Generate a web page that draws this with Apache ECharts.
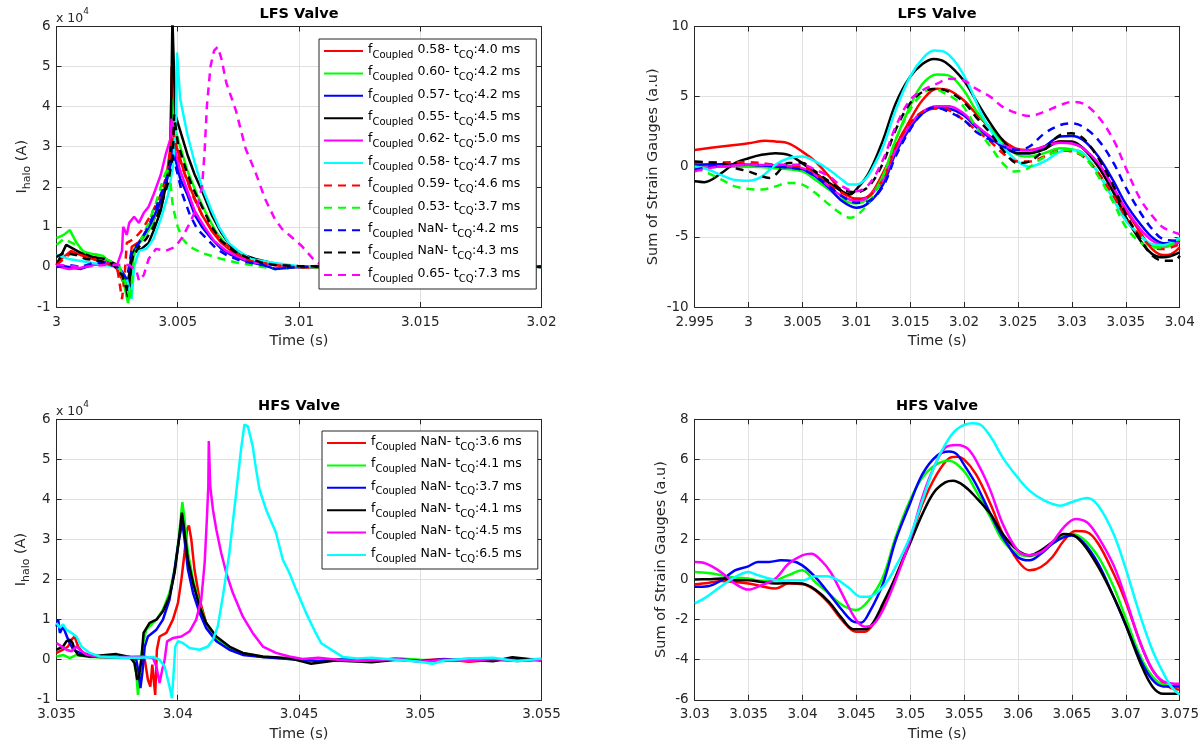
<!DOCTYPE html>
<html><head><meta charset="utf-8">
<script src="https://cdn.jsdelivr.net/npm/echarts@6/dist/echarts.min.js"></script>
<style>html,body{margin:0;padding:0;background:#fff}#c{width:1201px;height:749px}</style>
</head><body><div id="c"></div>
<script>
// ---------------- DATA ----------------
// Legend labels (f_Coupled value and t_CQ)
const lfsFc  = ['0.58','0.60','0.57','0.55','0.62','0.58','0.59','0.53','NaN','NaN','0.65'];
const lfsTcq = ['4.0','4.2','4.2','4.5','5.0','4.7','4.6','3.7','4.2','4.3','7.3'];
const hfsFc  = ['NaN','NaN','NaN','NaN','NaN','NaN'];
const hfsTcq = ['3.6','4.1','3.7','4.1','4.5','6.5'];

// Tick labels
const tlXTicks = ['3','3.005','3.01','3.015','3.02'];
const trXTicks = ['2.995','3','3.005','3.01','3.015','3.02','3.025','3.03','3.035','3.04'];
const blXTicks = ['3.035','3.04','3.045','3.05','3.055'];
const brXTicks = ['3.03','3.035','3.04','3.045','3.05','3.055','3.06','3.065','3.07','3.075'];
const haloYTicks = ['-1','0','1','2','3','4','5','6'];
const lfsStrainYTicks = ['-10','-5','0','5','10'];
const hfsStrainYTicks = ['-6','-4','-2','0','2','4','6','8'];

// LFS halo current [time s, I_halo x1e4 A]
const lfsHalo1 = [[3.0000,0.10],[3.0003,0.25],[3.0006,0.40],[3.0009,0.32],[3.0012,0.26],[3.0016,0.18],[3.0020,0.12],[3.0024,0.05],[3.0027,-0.30],[3.0029,-0.60],[3.0030,-0.20],[3.0031,0.50],[3.0034,0.62],[3.0037,0.85],[3.0040,1.15],[3.0043,1.60],[3.0045,2.10],[3.0047,3.00],[3.00475,5.00],[3.0048,3.30],[3.0050,2.90],[3.0053,2.30],[3.0056,1.85],[3.0060,1.30],[3.0064,0.90],[3.0068,0.60],[3.0072,0.40],[3.0077,0.25],[3.0082,0.15],[3.0090,0.08],[3.0100,0.00],[3.0110,0.03],[3.0130,-0.02],[3.0150,0.03],[3.0170,0.00],[3.0190,0.02],[3.0200,0.00]];
const lfsHalo2 = [[3.0000,0.72],[3.0003,0.80],[3.00055,0.92],[3.0008,0.63],[3.0011,0.38],[3.0015,0.32],[3.0019,0.28],[3.0022,0.12],[3.0026,0.00],[3.00275,-0.35],[3.00295,-0.90],[3.0031,-0.25],[3.0032,0.45],[3.0035,0.65],[3.0039,1.00],[3.0042,1.50],[3.0045,2.10],[3.0047,2.80],[3.0048,4.20],[3.0049,3.40],[3.0051,3.00],[3.0054,2.40],[3.0058,1.80],[3.0062,1.30],[3.0066,0.85],[3.0070,0.55],[3.0075,0.35],[3.0080,0.20],[3.0090,0.08],[3.0100,0.00],[3.0120,0.02],[3.0150,-0.02],[3.0180,0.02],[3.0200,0.00]];
const lfsHalo3 = [[3.0000,0.05],[3.0005,0.00],[3.0010,-0.05],[3.0015,0.05],[3.0020,0.10],[3.0025,0.05],[3.0028,-0.20],[3.0030,-0.50],[3.0031,0.30],[3.0033,0.50],[3.0036,0.80],[3.0039,1.10],[3.0042,1.50],[3.0045,2.00],[3.0047,2.60],[3.0048,3.00],[3.0049,2.70],[3.0051,2.20],[3.0054,1.80],[3.0057,1.30],[3.0060,1.00],[3.0064,0.70],[3.0068,0.45],[3.0072,0.30],[3.0078,0.15],[3.0085,0.05],[3.0090,-0.05],[3.0100,0.00],[3.0120,0.03],[3.0150,0.00],[3.0180,0.02],[3.0200,0.01]];
const lfsHalo4 = [[3.0000,0.05],[3.0004,0.55],[3.0007,0.45],[3.0010,0.35],[3.0015,0.25],[3.0020,0.20],[3.0025,0.05],[3.0028,-0.30],[3.00295,-0.75],[3.0031,0.10],[3.0032,0.40],[3.0035,0.45],[3.0038,0.60],[3.0040,0.90],[3.0043,1.40],[3.0045,2.00],[3.0047,2.80],[3.00478,6.20],[3.0049,3.80],[3.0051,3.40],[3.0054,2.80],[3.0057,2.30],[3.0060,1.90],[3.0064,1.30],[3.0068,0.85],[3.0072,0.50],[3.0077,0.30],[3.0082,0.20],[3.0090,0.08],[3.0100,0.00],[3.0120,-0.02],[3.0150,0.02],[3.0180,0.00],[3.0200,0.01]];
const lfsHalo5 = [[3.0000,0.02],[3.0005,-0.05],[3.0010,-0.02],[3.0015,0.05],[3.0020,0.10],[3.0025,0.05],[3.0027,0.40],[3.00275,1.00],[3.0029,0.80],[3.0030,1.10],[3.0032,1.25],[3.0034,1.10],[3.0036,1.35],[3.0038,1.50],[3.0040,1.80],[3.0043,2.30],[3.0045,2.80],[3.0047,3.20],[3.00475,3.70],[3.0049,2.90],[3.0051,2.40],[3.0054,1.90],[3.0057,1.40],[3.0061,1.00],[3.0065,0.65],[3.0070,0.40],[3.0075,0.25],[3.0080,0.12],[3.0090,0.05],[3.0100,0.00],[3.0120,0.02],[3.0150,0.00],[3.0180,0.03],[3.0200,0.02]];
const lfsHalo6 = [[3.0000,0.30],[3.0005,0.20],[3.0010,0.15],[3.0015,0.10],[3.0020,0.05],[3.0025,0.00],[3.0029,-0.30],[3.0031,-0.80],[3.0032,0.00],[3.0034,0.40],[3.0037,0.45],[3.0040,0.70],[3.0043,1.20],[3.0046,1.80],[3.0048,2.50],[3.00492,3.50],[3.00497,5.35],[3.0051,4.20],[3.0054,3.30],[3.0057,2.60],[3.0060,2.00],[3.0064,1.40],[3.0067,1.00],[3.0071,0.60],[3.0075,0.40],[3.0080,0.20],[3.0090,0.10],[3.0100,0.02],[3.0120,0.00],[3.0150,0.03],[3.0180,0.00],[3.0200,0.02]];
const lfsHalo7 = [[3.0000,0.05],[3.0006,0.35],[3.0010,0.30],[3.0015,0.20],[3.0020,0.10],[3.0025,0.00],[3.0027,-0.80],[3.0028,-0.30],[3.0029,0.60],[3.0032,0.70],[3.0035,0.90],[3.0039,1.30],[3.0043,1.80],[3.0046,2.40],[3.0048,3.40],[3.0050,2.80],[3.0053,2.30],[3.0056,1.80],[3.0060,1.30],[3.0065,0.85],[3.0070,0.55],[3.0075,0.30],[3.0080,0.15],[3.0090,0.05],[3.0100,-0.02],[3.0120,0.02],[3.0150,0.00],[3.0180,0.02],[3.0200,0.00]];
const lfsHalo8 = [[3.0000,0.55],[3.0003,0.70],[3.0008,0.55],[3.0012,0.35],[3.0017,0.30],[3.0022,0.15],[3.0026,0.00],[3.0029,-0.50],[3.00305,-0.85],[3.0032,0.30],[3.0035,0.70],[3.0038,1.10],[3.0041,1.60],[3.0044,2.20],[3.0046,2.50],[3.0047,2.10],[3.0048,1.50],[3.0050,1.00],[3.0052,0.70],[3.0055,0.50],[3.0060,0.35],[3.0068,0.20],[3.0075,0.10],[3.0085,0.00],[3.0090,-0.05],[3.0100,0.00],[3.0120,-0.02],[3.0150,0.02],[3.0180,0.00],[3.0200,0.00]];
const lfsHalo9 = [[3.0000,0.00],[3.0005,0.05],[3.0010,0.00],[3.0015,0.10],[3.0020,0.10],[3.0025,0.00],[3.0029,-0.30],[3.0031,0.40],[3.0034,0.60],[3.0037,0.90],[3.0040,1.30],[3.0043,1.80],[3.0046,2.30],[3.0048,2.80],[3.0050,2.30],[3.0052,1.80],[3.0055,1.30],[3.0058,0.95],[3.0062,0.70],[3.0066,0.45],[3.0070,0.30],[3.0076,0.15],[3.0085,0.05],[3.0090,-0.05],[3.0100,0.00],[3.0120,0.02],[3.0150,-0.01],[3.0180,0.02],[3.0200,0.00]];
const lfsHalo10 = [[3.0000,0.25],[3.0003,0.35],[3.0008,0.30],[3.0012,0.20],[3.0018,0.15],[3.0023,0.08],[3.0027,-0.20],[3.0029,-0.55],[3.0031,0.20],[3.0034,0.50],[3.0037,0.70],[3.0040,1.00],[3.0043,1.50],[3.0046,2.10],[3.0048,2.80],[3.00485,3.80],[3.0050,3.10],[3.0053,2.50],[3.0056,2.00],[3.0060,1.50],[3.0064,1.00],[3.0068,0.65],[3.0073,0.40],[3.0078,0.25],[3.0085,0.10],[3.0090,0.05],[3.0100,0.02],[3.0120,0.00],[3.0150,0.02],[3.0180,-0.01],[3.0200,0.01]];
const lfsHalo11 = [[3.0000,0.05],[3.0010,0.00],[3.0020,0.05],[3.0030,0.05],[3.0033,-0.10],[3.0034,-0.35],[3.0036,-0.20],[3.0038,0.20],[3.0041,0.45],[3.0045,0.40],[3.0049,0.50],[3.0052,0.75],[3.0055,1.10],[3.0058,1.50],[3.0060,2.00],[3.0061,2.80],[3.0062,4.00],[3.00635,5.00],[3.0065,5.40],[3.00665,5.49],[3.0068,5.20],[3.0070,4.60],[3.0074,3.90],[3.0078,2.95],[3.0082,2.37],[3.0086,1.70],[3.0090,1.20],[3.0093,0.95],[3.0101,0.53],[3.0107,0.12],[3.0110,0.05],[3.0130,0.00],[3.0160,0.02],[3.0200,0.00]];

// LFS strain gauges [time s, a.u.]
const lfsStrain1 = [[2.995,1.2],[2.99749,1.44],[3.0,1.67],[3.00157,1.86],[3.00249,1.8],[3.0037,1.67],[3.00498,1.08],[3.00618,0.38],[3.00746,-0.68],[3.00867,-1.75],[3.00998,-2.29],[3.01115,-2.1],[3.01247,-0.45],[3.01364,1.44],[3.01496,3.3],[3.01613,4.74],[3.01748,5.57],[3.01861,5.45],[3.01996,4.74],[3.02109,3.8],[3.02244,2.74],[3.02358,1.9],[3.02496,1.27],[3.02606,1.2],[3.02745,1.44],[3.0289,1.8],[3.02997,1.67],[3.03104,1.32],[3.03245,0.02],[3.03387,-1.75],[3.03494,-3.04],[3.03636,-4.7],[3.03746,-5.87],[3.03849,-6.3],[3.0392,-6.23],[3.04,-5.75]];
const lfsStrain2 = [[2.995,0.07],[2.99749,0.0],[3.0,0.0],[3.00249,-0.1],[3.00498,-0.33],[3.00618,-0.92],[3.00746,-1.63],[3.00867,-2.33],[3.00998,-2.62],[3.01115,-2.2],[3.01247,-0.68],[3.01364,1.9],[3.01496,4.27],[3.01613,5.9],[3.01748,6.58],[3.01861,6.5],[3.01996,5.45],[3.02109,4.03],[3.02244,2.74],[3.02358,1.8],[3.02496,0.85],[3.02606,0.73],[3.02745,0.97],[3.0289,1.32],[3.02997,1.25],[3.03104,0.97],[3.03245,-0.45],[3.03387,-2.33],[3.03494,-3.75],[3.03636,-4.93],[3.03746,-5.64],[3.03849,-5.75],[3.04,-5.17]];
const lfsStrain3 = [[2.995,0.14],[2.99749,0.17],[3.0,0.14],[3.00249,0.02],[3.00498,-0.17],[3.00618,-0.68],[3.00746,-1.5],[3.00867,-2.45],[3.00998,-2.92],[3.01115,-2.57],[3.01247,-1.27],[3.01364,0.97],[3.01496,2.74],[3.01613,3.8],[3.01748,4.22],[3.01861,4.15],[3.01996,3.68],[3.02109,2.85],[3.02244,2.03],[3.02358,1.44],[3.02496,0.97],[3.02606,0.97],[3.02745,1.44],[3.0289,2.15],[3.02997,2.19],[3.03104,1.9],[3.03245,0.73],[3.03387,-1.04],[3.03494,-2.57],[3.03636,-4.1],[3.03746,-5.05],[3.03849,-5.45],[3.04,-5.4]];
const lfsStrain4 = [[2.995,-1.04],[2.99589,-1.1],[2.99749,-0.45],[2.99873,0.26],[3.0,0.61],[3.00121,0.85],[3.00249,0.97],[3.0037,0.85],[3.00498,0.26],[3.00618,-0.45],[3.00746,-1.15],[3.00867,-1.75],[3.00938,-1.98],[3.00998,-1.63],[3.01115,-0.45],[3.01247,1.9],[3.01364,4.5],[3.01496,6.39],[3.01613,7.33],[3.01719,7.69],[3.01826,7.45],[3.01996,6.15],[3.02109,4.74],[3.02244,3.09],[3.02358,1.9],[3.02496,0.97],[3.02606,0.97],[3.02745,1.25],[3.0289,1.8],[3.02997,1.8],[3.03104,1.32],[3.03245,0.02],[3.03387,-1.86],[3.03494,-3.5],[3.03636,-5.28],[3.03746,-6.23],[3.03849,-6.46],[3.04,-6.1]];
const lfsStrain5 = [[2.995,-0.1],[2.99749,0.02],[3.0,0.14],[3.00249,0.1],[3.00498,-0.1],[3.00618,-0.57],[3.00746,-1.4],[3.00867,-2.1],[3.00998,-2.45],[3.01115,-2.1],[3.01247,-0.92],[3.01364,1.2],[3.01496,2.97],[3.01613,3.92],[3.01748,4.32],[3.01861,4.32],[3.01996,3.8],[3.02109,2.97],[3.02244,2.15],[3.02358,1.56],[3.02496,1.2],[3.02606,1.16],[3.02745,1.44],[3.0289,1.72],[3.02997,1.67],[3.03104,1.32],[3.03245,0.26],[3.03387,-1.5],[3.03494,-2.92],[3.03636,-4.46],[3.03746,-5.28],[3.03849,-5.59],[3.04,-5.4]];
const lfsStrain6 = [[2.995,0.02],[2.99624,-0.2],[2.99749,-0.6],[2.99873,-0.95],[3.0,-1.0],[3.00121,-0.7],[3.00249,0.14],[3.0037,0.61],[3.00498,0.73],[3.00618,0.38],[3.00746,-0.21],[3.00867,-0.92],[3.00938,-1.27],[3.00998,-1.27],[3.0108,-0.92],[3.01151,-0.1],[3.01247,1.44],[3.01364,4.03],[3.01496,6.39],[3.01613,7.69],[3.01719,8.28],[3.01826,8.16],[3.01932,7.33],[3.02038,5.92],[3.02145,4.03],[3.02244,2.62],[3.02358,1.44],[3.02496,0.38],[3.02606,0.02],[3.02745,0.38],[3.0289,1.08],[3.02997,1.2],[3.03104,0.97],[3.03245,-0.45],[3.03387,-2.33],[3.03494,-3.75],[3.03636,-4.93],[3.03746,-5.52],[3.03849,-5.59],[3.04,-5.05]];
const lfsStrain7 = [[2.995,0.26],[2.99749,0.31],[3.0,0.33],[3.00121,0.26],[3.00249,0.14],[3.00498,0.02],[3.00618,-0.45],[3.00746,-1.27],[3.00867,-1.86],[3.00998,-2.29],[3.01115,-2.1],[3.01247,-0.92],[3.01364,1.44],[3.01496,3.09],[3.01613,3.92],[3.01748,4.15],[3.01861,4.03],[3.01996,3.33],[3.02109,2.62],[3.02244,1.8],[3.02358,0.97],[3.02496,0.38],[3.02606,0.38],[3.02745,0.73],[3.0289,1.16],[3.02997,1.08],[3.03104,0.73],[3.03245,-0.45],[3.03387,-2.1],[3.03494,-3.5],[3.03636,-4.93],[3.03746,-5.75],[3.03849,-5.87],[3.04,-5.52]];
const lfsStrain8 = [[2.995,-0.1],[2.99624,-0.45],[2.99749,-0.92],[2.99873,-1.4],[3.0,-1.58],[3.00121,-1.63],[3.00249,-1.4],[3.0037,-1.15],[3.00498,-1.27],[3.00618,-1.86],[3.00746,-2.69],[3.00867,-3.4],[3.00938,-3.63],[3.00998,-3.51],[3.01115,-2.57],[3.01247,-0.68],[3.01364,1.9],[3.01496,4.03],[3.01613,5.21],[3.01719,5.57],[3.01826,5.21],[3.01932,4.74],[3.01996,4.27],[3.02109,2.85],[3.02244,1.44],[3.02358,0.26],[3.02464,-0.33],[3.02571,-0.21],[3.02677,0.38],[3.02819,0.97],[3.02926,1.2],[3.03032,1.08],[3.03139,0.5],[3.03245,-0.68],[3.03387,-2.57],[3.03494,-4.22],[3.03636,-5.4],[3.03746,-5.75],[3.03849,-5.75],[3.04,-5.17]];
const lfsStrain9 = [[2.995,-0.21],[2.99749,0.1],[3.0,0.14],[3.00249,0.02],[3.00498,-0.21],[3.00618,-0.68],[3.00746,-1.4],[3.00867,-2.1],[3.00998,-2.57],[3.01115,-2.45],[3.01247,-1.4],[3.01364,0.73],[3.01496,2.62],[3.01613,3.8],[3.01719,4.22],[3.01826,4.03],[3.01996,3.33],[3.02109,2.5],[3.02244,1.9],[3.02358,1.44],[3.02496,1.2],[3.02606,1.44],[3.02745,2.38],[3.0289,2.97],[3.02997,3.09],[3.03104,2.85],[3.03245,1.9],[3.03387,0.26],[3.03494,-1.4],[3.03636,-3.28],[3.03746,-4.46],[3.03849,-5.17],[3.04,-5.28]];
const lfsStrain10 = [[2.995,0.38],[2.99624,0.31],[2.99749,0.26],[2.99873,-0.1],[3.0,-0.33],[3.00121,-0.68],[3.00192,-0.8],[3.00249,-0.57],[3.0037,0.26],[3.00498,0.26],[3.00618,-0.33],[3.00746,-1.04],[3.00867,-1.63],[3.00998,-1.82],[3.01115,-1.4],[3.01247,0.26],[3.01364,2.62],[3.01496,4.5],[3.01613,5.33],[3.01748,5.57],[3.01861,5.33],[3.01996,4.62],[3.02109,3.56],[3.02244,2.38],[3.02358,1.2],[3.02496,0.26],[3.02606,0.38],[3.02745,1.2],[3.0289,2.26],[3.02997,2.38],[3.03104,2.03],[3.03245,0.61],[3.03387,-1.4],[3.03494,-3.28],[3.03636,-5.17],[3.03746,-6.34],[3.03849,-6.7],[3.03955,-6.7],[3.04,-6.34]];
const lfsStrain11 = [[2.995,-0.33],[2.99624,-0.1],[2.99749,0.02],[3.0,0.14],[3.00249,0.14],[3.00498,0.14],[3.00618,-0.21],[3.00746,-0.68],[3.00867,-1.4],[3.00998,-1.75],[3.01115,-1.27],[3.01247,0.5],[3.01364,2.85],[3.01496,4.74],[3.01613,5.45],[3.01748,5.92],[3.01861,6.27],[3.01996,6.15],[3.02109,5.57],[3.02244,4.98],[3.02358,4.27],[3.02496,3.8],[3.02606,3.61],[3.02745,3.92],[3.0289,4.39],[3.02997,4.62],[3.03104,4.5],[3.03245,3.56],[3.03387,1.9],[3.03494,0.02],[3.03636,-2.33],[3.03746,-3.51],[3.03849,-4.34],[3.04,-4.81]];

// HFS halo current [time s, I_halo x1e4 A]
const hfsHalo1 = [[3.035,0.17],[3.03527,0.25],[3.03548,0.33],[3.03562,0.5],[3.03575,0.58],[3.03589,0.33],[3.0361,0.17],[3.03665,0.07],[3.03774,0.07],[3.03829,0.04],[3.03864,0.0],[3.03877,-0.5],[3.03887,-0.67],[3.03895,-0.12],[3.03901,-0.5],[3.03907,-0.88],[3.03914,0.25],[3.03925,0.58],[3.03953,0.67],[3.0398,1.0],[3.04001,1.42],[3.04015,2.0],[3.04028,2.67],[3.04038,3.25],[3.04046,3.35],[3.04056,3.0],[3.04069,2.25],[3.0409,1.5],[3.04117,0.92],[3.04152,0.54],[3.04186,0.37],[3.04241,0.21],[3.04296,0.12],[3.04351,0.07],[3.04433,0.04],[3.04488,0.0],[3.0458,-0.05],[3.0468,0.02],[3.048,-0.04],[3.049,0.03],[3.050,-0.02],[3.051,0.02],[3.052,-0.05],[3.053,0.0],[3.054,-0.03],[3.055,0.0]];
const hfsHalo2 = [[3.035,0.08],[3.03527,0.12],[3.03555,0.04],[3.03582,0.12],[3.03637,0.07],[3.03816,0.04],[3.03829,-0.33],[3.03836,-0.88],[3.03843,-0.33],[3.03854,0.33],[3.0387,0.75],[3.03912,1.0],[3.03939,1.25],[3.03966,1.67],[3.03987,2.25],[3.04005,3.08],[3.04019,3.93],[3.04028,3.5],[3.04042,2.67],[3.04063,2.0],[3.0409,1.38],[3.04117,0.92],[3.04159,0.54],[3.04213,0.29],[3.04268,0.17],[3.04351,0.07],[3.0446,0.02],[3.0457,-0.04],[3.047,0.02],[3.048,-0.03],[3.049,0.04],[3.050,0.0],[3.051,-0.03],[3.052,0.03],[3.053,-0.02],[3.054,0.02],[3.055,0.01]];
const hfsHalo3 = [[3.035,0.83],[3.03507,1.0],[3.03514,0.67],[3.03527,0.83],[3.03548,0.5],[3.03569,0.25],[3.03596,0.17],[3.03637,0.08],[3.03706,0.07],[3.03802,0.07],[3.03829,0.0],[3.03839,-0.33],[3.03846,-0.71],[3.03854,-0.33],[3.03864,0.33],[3.03877,0.58],[3.03912,0.75],[3.03939,1.0],[3.03966,1.5],[3.03987,2.25],[3.04005,3.0],[3.04019,3.42],[3.04028,3.0],[3.04042,2.25],[3.04063,1.67],[3.0409,1.17],[3.04117,0.79],[3.04159,0.46],[3.04213,0.25],[3.04268,0.12],[3.04351,0.07],[3.0446,0.02],[3.0458,-0.03],[3.047,0.01],[3.048,-0.02],[3.049,0.02],[3.050,-0.03],[3.051,0.01],[3.052,-0.02],[3.053,0.02],[3.054,0.0],[3.055,0.01]];
const hfsHalo4 = [[3.035,0.25],[3.03527,0.33],[3.03541,0.46],[3.03555,0.5],[3.03566,0.42],[3.03575,0.25],[3.03589,0.12],[3.03637,0.08],[3.03747,0.14],[3.03802,0.07],[3.03822,-0.08],[3.03833,-0.5],[3.0384,-0.42],[3.0385,0.0],[3.03859,0.67],[3.03884,0.92],[3.03912,1.0],[3.03939,1.21],[3.03966,1.58],[3.03987,2.17],[3.04005,3.0],[3.04017,3.67],[3.04025,3.33],[3.04042,2.5],[3.04063,1.92],[3.0409,1.33],[3.04117,0.92],[3.04159,0.58],[3.04213,0.33],[3.04268,0.17],[3.04351,0.08],[3.0446,0.04],[3.0455,-0.1],[3.0465,-0.02],[3.048,-0.06],[3.049,0.0],[3.050,-0.04],[3.051,-0.02],[3.052,0.0],[3.053,-0.04],[3.0538,0.06],[3.055,-0.02]];
const hfsHalo5 = [[3.035,0.42],[3.03521,0.33],[3.03541,0.25],[3.03562,0.21],[3.03582,0.33],[3.03596,0.25],[3.03623,0.13],[3.03678,0.07],[3.03774,0.07],[3.03857,0.08],[3.03898,0.04],[3.03912,-0.17],[3.03925,-0.58],[3.03936,-0.25],[3.03946,0.0],[3.03956,0.46],[3.0398,0.54],[3.04015,0.58],[3.04049,0.71],[3.04076,1.0],[3.04097,1.5],[3.04111,2.42],[3.0412,3.5],[3.04126,4.33],[3.04128,5.46],[3.04134,4.33],[3.04145,3.75],[3.04159,3.25],[3.04179,2.67],[3.042,2.17],[3.04227,1.67],[3.04268,1.08],[3.04309,0.67],[3.04351,0.33],[3.04405,0.17],[3.0446,0.08],[3.04515,0.02],[3.0458,0.05],[3.0466,0.0],[3.0475,-0.03],[3.049,0.02],[3.050,-0.05],[3.051,0.0],[3.052,-0.03],[3.053,0.02],[3.054,-0.02],[3.055,0.0]];
const hfsHalo6 = [[3.035,0.92],[3.03514,0.8],[3.03527,0.88],[3.03541,0.75],[3.03562,0.67],[3.03582,0.58],[3.03603,0.33],[3.03637,0.17],[3.03678,0.08],[3.03719,0.07],[3.03774,0.05],[3.03843,0.05],[3.03898,0.07],[3.03925,0.0],[3.03946,-0.17],[3.03966,-0.67],[3.03976,-0.96],[3.03983,-0.33],[3.0399,0.33],[3.04001,0.46],[3.04021,0.42],[3.04049,0.29],[3.0409,0.25],[3.04124,0.33],[3.04145,0.5],[3.04165,0.83],[3.04186,1.58],[3.04213,2.67],[3.04241,4.17],[3.04261,5.25],[3.04275,5.87],[3.04289,5.83],[3.04309,5.33],[3.04323,4.75],[3.04337,4.25],[3.04364,3.75],[3.04405,3.17],[3.04433,2.5],[3.0446,2.17],[3.04488,1.75],[3.04529,1.17],[3.04563,0.74],[3.04592,0.41],[3.04636,0.24],[3.0468,0.07],[3.0474,0.03],[3.048,0.05],[3.049,0.0],[3.050,-0.05],[3.0505,-0.1],[3.051,-0.02],[3.052,0.03],[3.053,0.05],[3.054,-0.04],[3.055,0.03]];

// HFS strain gauges [time s, a.u.]
const hfsStrain1 = [[3.03,-0.23],[3.03124,-0.17],[3.03249,-0.07],[3.03373,-0.12],[3.03497,-0.2],[3.03621,-0.33],[3.03749,-0.45],[3.0387,-0.2],[3.03998,-0.23],[3.04118,-0.53],[3.04246,-1.19],[3.04367,-2.02],[3.04498,-2.6],[3.0458,-2.6],[3.04651,-2.27],[3.04747,-1.36],[3.04864,0.13],[3.04996,1.95],[3.05113,3.77],[3.05247,5.26],[3.05361,6.06],[3.05432,6.13],[3.05496,6.01],[3.05609,5.26],[3.05744,3.77],[3.05858,2.28],[3.05996,0.96],[3.06106,0.46],[3.06213,0.63],[3.06319,1.13],[3.06426,1.95],[3.06532,2.42],[3.06639,2.37],[3.06745,1.79],[3.06887,0.3],[3.06994,-1.03],[3.07136,-3.18],[3.07246,-4.5],[3.07349,-5.17],[3.0742,-5.41],[3.075,-5.5]];
const hfsStrain2 = [[3.03,0.38],[3.03124,0.33],[3.03249,0.22],[3.03373,0.1],[3.03497,0.05],[3.03621,-0.07],[3.03749,-0.03],[3.0387,0.22],[3.03998,0.46],[3.04118,-0.12],[3.04246,-0.7],[3.04367,-1.27],[3.04498,-1.52],[3.04615,-1.03],[3.04747,0.13],[3.04864,2.12],[3.04996,3.94],[3.05113,5.1],[3.05247,5.76],[3.05361,5.93],[3.05496,5.43],[3.05609,4.44],[3.05744,3.11],[3.05858,1.95],[3.05996,1.29],[3.06106,1.16],[3.06213,1.37],[3.06319,1.79],[3.06426,2.2],[3.06497,2.28],[3.06603,2.04],[3.06745,1.13],[3.06887,-0.36],[3.06994,-1.85],[3.07136,-3.84],[3.07246,-4.83],[3.07349,-5.25],[3.075,-5.33]];
const hfsStrain3 = [[3.03,-0.36],[3.03124,-0.33],[3.03249,-0.03],[3.03373,0.46],[3.03497,0.66],[3.03586,0.88],[3.03692,0.88],[3.03799,0.96],[3.03905,0.93],[3.03998,0.71],[3.04118,0.13],[3.04246,-0.7],[3.04367,-1.52],[3.04473,-2.1],[3.04544,-2.15],[3.04615,-1.69],[3.04747,-0.2],[3.04864,1.95],[3.04996,3.77],[3.05113,5.26],[3.05247,6.18],[3.05361,6.39],[3.05432,6.26],[3.05496,5.76],[3.05609,4.77],[3.05744,3.28],[3.05858,2.12],[3.05996,1.13],[3.06106,0.96],[3.06213,1.29],[3.06319,1.79],[3.06426,2.12],[3.06497,2.2],[3.06603,1.87],[3.06745,0.79],[3.06887,-0.86],[3.06994,-2.19],[3.07136,-4.0],[3.07246,-5.0],[3.07349,-5.33],[3.075,-5.33]];
const hfsStrain4 = [[3.03,0.0],[3.03124,0.02],[3.03249,0.05],[3.03373,-0.03],[3.03497,-0.03],[3.03621,-0.12],[3.03749,-0.2],[3.0387,-0.17],[3.03998,-0.2],[3.04118,-0.5],[3.04246,-1.11],[3.04367,-1.94],[3.04473,-2.48],[3.0458,-2.48],[3.04651,-2.19],[3.04747,-1.19],[3.04864,0.13],[3.04996,1.79],[3.05113,3.28],[3.05219,4.35],[3.05325,4.85],[3.05396,4.93],[3.05496,4.69],[3.05609,4.11],[3.05744,3.28],[3.05858,2.28],[3.05996,1.46],[3.06106,1.21],[3.06213,1.46],[3.06319,1.87],[3.06426,2.28],[3.06497,2.25],[3.06603,1.79],[3.06745,0.63],[3.06887,-0.86],[3.06994,-2.19],[3.07136,-4.17],[3.07246,-5.33],[3.07349,-5.7],[3.075,-5.7]];
const hfsStrain5 = [[3.03,0.88],[3.03089,0.83],[3.03195,0.55],[3.03302,0.13],[3.03373,-0.2],[3.03497,-0.5],[3.03621,-0.28],[3.03749,0.05],[3.0387,0.79],[3.03998,1.21],[3.04083,1.29],[3.04172,0.96],[3.0426,0.38],[3.04367,-0.7],[3.04498,-2.02],[3.0458,-2.35],[3.04651,-2.27],[3.04747,-1.52],[3.04864,-0.03],[3.04996,1.95],[3.05113,4.11],[3.05219,5.6],[3.05325,6.59],[3.05432,6.72],[3.05538,6.51],[3.05645,5.6],[3.05744,4.44],[3.05858,2.78],[3.05996,1.46],[3.06106,1.21],[3.06213,1.37],[3.06319,1.87],[3.06426,2.62],[3.06532,3.03],[3.06639,2.86],[3.06745,2.12],[3.06887,0.71],[3.06994,-0.86],[3.07136,-3.18],[3.07246,-4.5],[3.07349,-5.08],[3.075,-5.2]];
const hfsStrain6 = [[3.03,-1.19],[3.03089,-0.94],[3.03195,-0.53],[3.03302,-0.12],[3.03408,0.22],[3.03497,0.38],[3.03586,0.22],[3.03692,0.05],[3.03799,-0.07],[3.03905,-0.03],[3.04012,-0.03],[3.04118,0.17],[3.04225,0.17],[3.04331,-0.03],[3.04438,-0.45],[3.04544,-0.86],[3.04615,-0.86],[3.04747,-0.36],[3.04864,0.63],[3.04996,2.12],[3.05113,3.94],[3.05219,5.6],[3.05325,6.75],[3.05432,7.5],[3.05574,7.8],[3.05645,7.75],[3.05751,7.09],[3.05858,6.09],[3.05996,5.1],[3.06106,4.44],[3.06245,3.94],[3.0639,3.69],[3.06497,3.86],[3.06639,4.07],[3.06745,3.69],[3.06887,2.28],[3.06994,0.63],[3.07136,-1.85],[3.07246,-3.51],[3.07349,-4.67],[3.0742,-5.33],[3.075,-5.75]];

// ---------------- CHART ----------------
const FONT = 'DejaVu Sans';
const TXT = '#262626';
const lfsColors = ['#ff0000','#00ff00','#0000ff','#000000','#ff00ff','#00ffff','#ff0000','#00ff00','#0000ff','#000000','#ff00ff'];
const lfsDashed = [false,false,false,false,false,false,true,true,true,true,true];
const hfsColors = ['#ff0000','#00ff00','#0000ff','#000000','#ff00ff','#00ffff'];
const lfsHalo = [lfsHalo1,lfsHalo2,lfsHalo3,lfsHalo4,lfsHalo5,lfsHalo6,lfsHalo7,lfsHalo8,lfsHalo9,lfsHalo10,lfsHalo11];
const lfsStrain = [lfsStrain1,lfsStrain2,lfsStrain3,lfsStrain4,lfsStrain5,lfsStrain6,lfsStrain7,lfsStrain8,lfsStrain9,lfsStrain10,lfsStrain11];
const hfsHalo = [hfsHalo1,hfsHalo2,hfsHalo3,hfsHalo4,hfsHalo5,hfsHalo6];
const hfsStrain = [hfsStrain1,hfsStrain2,hfsStrain3,hfsStrain4,hfsStrain5,hfsStrain6];

const G = [
  {left:56.5, top:26.5, width:485, height:280.5},
  {left:694.7, top:26.5, width:485, height:280.5},
  {left:56.5, top:419.3, width:485, height:280.5},
  {left:694.7, top:419.3, width:485, height:280.5}
];
const P = [
  {xt:tlXTicks, yt:haloYTicks, xmin:3.0, xmax:3.02, xi:0.005, ymin:-1, ymax:6, yi:1, halo:true, nameGap:24},
  {xt:trXTicks, yt:lfsStrainYTicks, xmin:2.995, xmax:3.04, xi:0.005, ymin:-10, ymax:10, yi:5, halo:false, nameGap:34},
  {xt:blXTicks, yt:haloYTicks, xmin:3.035, xmax:3.055, xi:0.005, ymin:-1, ymax:6, yi:1, halo:true, nameGap:26},
  {xt:brXTicks, yt:hfsStrainYTicks, xmin:3.03, xmax:3.075, xi:0.005, ymin:-6, ymax:8, yi:2, halo:false, nameGap:26}
];

function tickLabel(list, min, step) {
  return function (v) { const i = Math.round((v - min) / step); return list[i] !== undefined ? list[i] : ''; };
}

const xAxis = [], yAxis = [];
P.forEach((p, k) => {
  xAxis.push({
    type:'value', gridIndex:k, min:p.xmin, max:p.xmax, interval:p.xi,
    name:'Time (s)', nameLocation:'middle', nameGap:27,
    nameTextStyle:{fontFamily:FONT, fontSize:14.5, color:TXT},
    axisLine:{show:true, onZero:false, lineStyle:{color:TXT, width:1}},
    axisTick:{show:true, inside:true, length:5, lineStyle:{color:TXT}},
    axisLabel:{fontFamily:FONT, fontSize:13.5, color:TXT, margin:8, formatter:tickLabel(p.xt, p.xmin, p.xi)},
    splitLine:{show:true, lineStyle:{color:'#e0e0e0', width:1}}
  });
  yAxis.push({
    type:'value', gridIndex:k, min:p.ymin, max:p.ymax, interval:p.yi,
    name: p.halo ? '{i|I}{s|halo}{i| (A)}' : 'Sum of Strain Gauges (a.u)',
    nameLocation:'middle', nameGap:p.nameGap, nameRotate:90,
    nameTextStyle: p.halo ? {
      fontFamily:FONT, fontSize:14.5, color:TXT,
      rich:{ i:{fontFamily:FONT, fontSize:14.5, color:TXT, lineHeight:17, verticalAlign:'top'},
             s:{fontFamily:FONT, fontSize:11, color:TXT, lineHeight:13, padding:[7,0,0,0], verticalAlign:'top'} }
    } : {fontFamily:FONT, fontSize:14.5, color:TXT},
    axisLine:{show:true, onZero:false, lineStyle:{color:TXT, width:1}},
    axisTick:{show:true, inside:true, length:5, lineStyle:{color:TXT}},
    axisLabel:{fontFamily:FONT, fontSize:13.5, color:TXT, margin:6, formatter:tickLabel(p.yt, p.ymin, p.yi)},
    splitLine:{show:true, lineStyle:{color:'#e0e0e0', width:1}}
  });
});
// mirrored top / right axes (box with inside ticks)
P.forEach((p, k) => {
  xAxis.push({type:'value', gridIndex:k, position:'top', min:p.xmin, max:p.xmax, interval:p.xi,
    axisLine:{show:true, onZero:false, lineStyle:{color:TXT}}, axisTick:{show:true, inside:true, length:5, lineStyle:{color:TXT}},
    axisLabel:{show:false}, splitLine:{show:false}});
  yAxis.push({type:'value', gridIndex:k, position:'right', min:p.ymin, max:p.ymax, interval:p.yi,
    axisLine:{show:true, onZero:false, lineStyle:{color:TXT}}, axisTick:{show:true, inside:true, length:5, lineStyle:{color:TXT}},
    axisLabel:{show:false}, splitLine:{show:false}});
});

const series = [];
function addSeries(prefix, arrs, colors, dashed, k, smooth) {
  arrs.forEach((d, i) => {
    series.push({
      name: prefix + (i + 1), type:'line', xAxisIndex:k, yAxisIndex:k, data:d,
      showSymbol:false, symbol:'none', smooth:smooth, animation:false, clip:true,
      lineStyle:{color:colors[i], width:2.5, type: dashed && dashed[i] ? [8,6] : 'solid'},
      itemStyle:{color:colors[i]}
    });
  });
}
addSeries('L', lfsHalo, lfsColors, lfsDashed, 0, false);
addSeries('LS', lfsStrain, lfsColors, lfsDashed, 1, 0.35);
addSeries('H', hfsHalo, hfsColors, null, 2, false);
addSeries('HS', hfsStrain, hfsColors, null, 3, 0.35);

const legendRich = {
  m:{fontFamily:FONT, fontSize:12.5, color:'#000', lineHeight:16, verticalAlign:'top'},
  s:{fontFamily:FONT, fontSize:10, color:'#000', lineHeight:12, padding:[7,0,1,0], verticalAlign:'top'}
};
function legendFmt(fc, tcq, prefix) {
  return function (name) {
    const i = parseInt(name.slice(prefix.length), 10) - 1;
    return '{m|f}{s|Coupled}{m| ' + fc[i] + '- t}{s|CQ}{m|:' + tcq[i] + ' ms}';
  };
}
const legendBase = {
  orient:'vertical', itemWidth:39, itemHeight:14, itemGap:4.4,
  backgroundColor:'#fff', borderColor:'#262626', borderWidth:1, borderRadius:0,
  padding:[4,16,4,4], selectedMode:false, z:10,
  itemStyle:{opacity:0},
  textStyle:{fontFamily:FONT, fontSize:12.5, color:'#000', rich:legendRich}
};

const titleStyle = {fontFamily:FONT, fontSize:14.5, fontWeight:'bold', color:'#000'};
const expRich = {
  a:{fontFamily:FONT, fontSize:12.5, fontWeight:'normal', color:TXT, lineHeight:18, verticalAlign:'bottom'},
  b:{fontFamily:FONT, fontSize:9, fontWeight:'normal', color:TXT, lineHeight:10, verticalAlign:'top'}
};

const option = {
  backgroundColor:'#fff',
  animation:false,
  title:[
    {text:'LFS Valve', left:299, top:6.5, textAlign:'center', textStyle:titleStyle, padding:0},
    {text:'LFS Valve', left:937, top:6.5, textAlign:'center', textStyle:titleStyle, padding:0},
    {text:'HFS Valve', left:299, top:398.5, textAlign:'center', textStyle:titleStyle, padding:0},
    {text:'HFS Valve', left:937, top:398.5, textAlign:'center', textStyle:titleStyle, padding:0},
    {text:'{a|x 10}{b|4}', left:56, top:7, padding:0, textStyle:{fontWeight:'normal', fontFamily:FONT, rich:expRich}},
    {text:'{a|x 10}{b|4}', left:56, top:400, padding:0, textStyle:{fontWeight:'normal', fontFamily:FONT, rich:expRich}}
  ],
  grid: G.map(g => Object.assign({containLabel:false, outerBoundsMode:'none'}, g)),
  xAxis, yAxis,
  legend:[
    Object.assign({}, legendBase, {left:319, top:39, data:lfsHalo.map((d,i)=>'L'+(i+1)), formatter:legendFmt(lfsFc, lfsTcq, 'L')}),
    Object.assign({}, legendBase, {left:322, top:431, data:hfsHalo.map((d,i)=>'H'+(i+1)), formatter:legendFmt(hfsFc, hfsTcq, 'H')})
  ],
  series
};
const chart = echarts.init(document.getElementById('c'), null, {renderer:'canvas'});
chart.setOption(option);
</script></body></html>
